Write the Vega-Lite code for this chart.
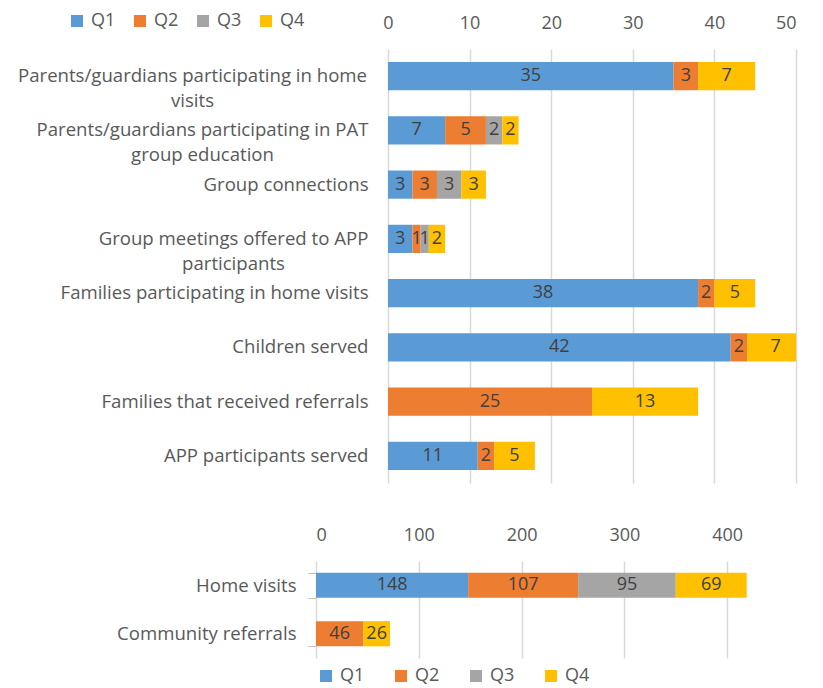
{
  "$schema": "https://vega.github.io/schema/vega-lite/v6.json",
  "padding": {"left": 8, "top": 4, "right": 5, "bottom": 0},
  "autosize": {"type": "pad"},
  "spacing": 43,
  "bounds": "full",
  "config": {
    "view": {"stroke": null},
    "font": "Open Sans",
    "axis": {"labelFont": "Open Sans", "labelFontSize": 18, "labelColor": "#595959", "gridColor": "#d9d9d9", "gridWidth": 1.5, "domain": false, "ticks": false, "titleFontSize": 10, "titleColor": "#ffffff"},
    "legend": {"labelFont": "Open Sans", "labelFontSize": 18, "labelColor": "#595959"}
  },
  "resolve": {"scale": {"color": "independent", "x": "independent", "y": "independent"}, "legend": {"color": "independent"}},
  "vconcat": [
    {
      "width": 480,
      "height": 434,
      "data": {"values": [
        {"cat": "Parents/guardians participating in home\nvisits", "q": "Q1", "v": 35},
        {"cat": "Parents/guardians participating in home\nvisits", "q": "Q2", "v": 3},
        {"cat": "Parents/guardians participating in home\nvisits", "q": "Q4", "v": 7},
        {"cat": "Parents/guardians participating in PAT\ngroup education", "q": "Q1", "v": 7},
        {"cat": "Parents/guardians participating in PAT\ngroup education", "q": "Q2", "v": 5},
        {"cat": "Parents/guardians participating in PAT\ngroup education", "q": "Q3", "v": 2},
        {"cat": "Parents/guardians participating in PAT\ngroup education", "q": "Q4", "v": 2},
        {"cat": "Group connections", "q": "Q1", "v": 3},
        {"cat": "Group connections", "q": "Q2", "v": 3},
        {"cat": "Group connections", "q": "Q3", "v": 3},
        {"cat": "Group connections", "q": "Q4", "v": 3},
        {"cat": "Group meetings offered to APP\nparticipants", "q": "Q1", "v": 3},
        {"cat": "Group meetings offered to APP\nparticipants", "q": "Q2", "v": 1},
        {"cat": "Group meetings offered to APP\nparticipants", "q": "Q3", "v": 1},
        {"cat": "Group meetings offered to APP\nparticipants", "q": "Q4", "v": 2},
        {"cat": "Families participating in home visits", "q": "Q1", "v": 38},
        {"cat": "Families participating in home visits", "q": "Q2", "v": 2},
        {"cat": "Families participating in home visits", "q": "Q4", "v": 5},
        {"cat": "Children served", "q": "Q1", "v": 42},
        {"cat": "Children served", "q": "Q2", "v": 2},
        {"cat": "Children served", "q": "Q4", "v": 7},
        {"cat": "Families that received referrals", "q": "Q2", "v": 25},
        {"cat": "Families that received referrals", "q": "Q4", "v": 13},
        {"cat": "APP participants served", "q": "Q1", "v": 11},
        {"cat": "APP participants served", "q": "Q2", "v": 2},
        {"cat": "APP participants served", "q": "Q4", "v": 5}
      ]},
      "encoding": {
        "y": {
          "field": "cat", "type": "nominal", "sort": null,
          "scale": {"paddingInner": 0.48, "paddingOuter": 0.24},
          "axis": {
            "title": " ", "titleX": -308, "titleY": -45, "titleAngle": 0, "titleBaseline": "top", "titleAlign": "left",
            "ticks": false, "tickSize": 0, "domain": false, "labelLimit": 500, "labelFontSize": 18.6,
            "labelExpr": "split(datum.label, '\\n')",
            "labelLineHeight": 25,
            "labelAlign": {"condition": {"test": "indexof(datum.value, '\\n') >= 0", "value": "center"}, "value": "right"},
            "labelPadding": {"condition": [
              {"test": "indexof(datum.value, 'home\\n') >= 0", "value": 124},
              {"test": "indexof(datum.value, 'PAT\\n') >= 0", "value": 114},
              {"test": "indexof(datum.value, 'APP\\n') >= 0", "value": 83}
            ], "value": -52}
          }
        }
      },
      "layer": [
        {
          "mark": {"type": "bar", "clip": true},
          "encoding": {
            "x": {"field": "v", "type": "quantitative", "stack": "zero", "scale": {"domain": [-8.8235, 50], "nice": false, "zero": false},
              "axis": {"orient": "top", "values": [0, 10, 20, 30, 40, 50], "grid": true, "labelPadding": 17, "title": null}},
            "color": {"field": "q", "type": "nominal",
              "scale": {"domain": ["Q1", "Q2", "Q3", "Q4"], "range": ["#5b9bd5", "#ed7d31", "#a5a5a5", "#ffc000"]},
              "legend": {"orient": "none", "legendX": -248, "legendY": -37, "direction": "horizontal", "title": null, "symbolType": "square", "symbolSize": 144, "symbolStrokeWidth": 0, "labelOffset": 5, "columnPadding": 15, "padding": 0}},
            "order": {"field": "q"}
          }
        },
        {
          "mark": {"type": "text", "fontSize": 18, "color": "#404040", "font": "Open Sans"},
          "encoding": {
            "x": {"field": "v", "type": "quantitative", "stack": "zero", "bandPosition": 0.5},
            "detail": {"field": "q"},
            "order": {"field": "q"},
            "text": {"field": "v", "type": "quantitative"}
          }
        }
      ]
    },
    {
      "width": 442,
      "height": 97,
      "data": {"values": [
        {"cat": "Home visits", "q": "Q1", "v": 148},
        {"cat": "Home visits", "q": "Q2", "v": 107},
        {"cat": "Home visits", "q": "Q3", "v": 95},
        {"cat": "Home visits", "q": "Q4", "v": 69},
        {"cat": "Community referrals", "q": "Q2", "v": 46},
        {"cat": "Community referrals", "q": "Q4", "v": 26}
      ]},
      "encoding": {
        "y": {
          "field": "cat", "type": "nominal", "sort": null,
          "scale": {"paddingInner": 0.48, "paddingOuter": 0.24},
          "axis": {
            "title": " ", "titleX": -308, "titleY": 0, "titleAngle": 0, "titleBaseline": "top", "titleAlign": "left",
            "ticks": true, "tickSize": 8, "tickBand": "extent", "tickColor": "#bfbfbf", "tickWidth": 1,
            "domain": true, "domainColor": "#d9d9d9", "domainWidth": 1, "labelFontSize": 18.6,
            "labelPadding": 12, "labelLimit": 400
          }
        }
      },
      "layer": [
        {
          "mark": {"type": "bar", "clip": true},
          "encoding": {
            "x": {"field": "v", "type": "quantitative", "stack": "zero", "scale": {"domain": [0, 430], "nice": false},
              "axis": {"orient": "top", "values": [0, 100, 200, 300, 400], "grid": true, "labelPadding": 17, "title": null}},
            "color": {"field": "q", "type": "nominal",
              "scale": {"domain": ["Q1", "Q2", "Q3", "Q4"], "range": ["#5b9bd5", "#ed7d31", "#a5a5a5", "#ffc000"]},
              "legend": {"orient": "none", "legendX": 1, "legendY": 106, "direction": "horizontal", "title": null, "symbolType": "square", "symbolSize": 144, "symbolStrokeWidth": 0, "labelOffset": 5, "columnPadding": 27, "padding": 0}},
            "order": {"field": "q"}
          }
        },
        {
          "mark": {"type": "text", "fontSize": 18, "color": "#404040", "font": "Open Sans"},
          "encoding": {
            "x": {"field": "v", "type": "quantitative", "stack": "zero", "bandPosition": 0.5},
            "detail": {"field": "q"},
            "order": {"field": "q"},
            "text": {"field": "v", "type": "quantitative"}
          }
        }
      ]
    }
  ]
}
